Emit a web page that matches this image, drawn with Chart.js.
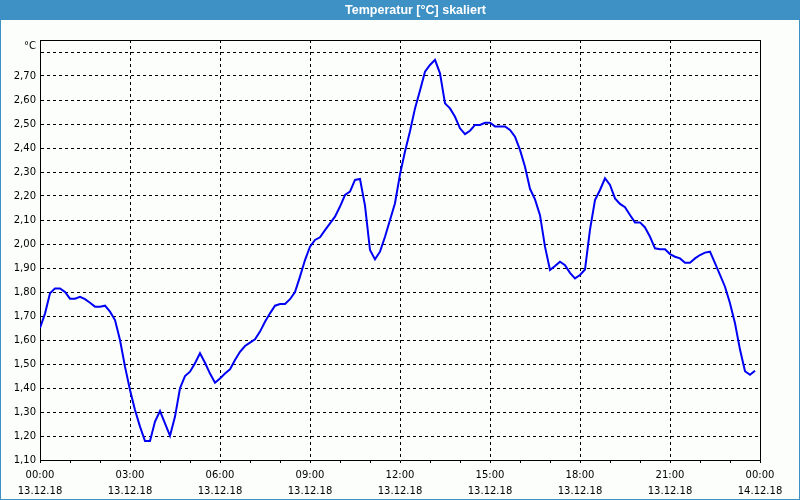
<!DOCTYPE html>
<html><head><meta charset="utf-8">
<script src="https://cdn.jsdelivr.net/npm/chart.js@4"></script>
<style>html,body{margin:0;padding:0;background:#fcfefc;}#wrap{width:800px;height:500px;position:relative}</style>
</head><body><div id="wrap"><canvas id="c" width="800" height="500"></canvas></div>
<script>
const chartTitle = 'Temperatur [°C] skaliert';
const unitLabel = '°C';
const sampleMinutes = 10;
const temps = [
1.65,1.71,1.795,1.815,1.815,1.80,1.772,1.772,1.78,1.77,
1.755,1.739,1.739,1.743,1.718,1.683,1.60,1.489,1.392,1.308,
1.239,1.179,1.179,1.26,1.304,1.253,1.201,1.281,1.399,1.45,
1.468,1.503,1.545,1.505,1.46,1.422,1.44,1.46,1.478,1.517,
1.551,1.575,1.589,1.603,1.635,1.676,1.711,1.743,1.75,1.75,
1.77,1.80,1.864,1.933,1.989,2.017,2.028,2.058,2.086,2.114,
2.156,2.204,2.218,2.267,2.271,2.16,1.975,1.936,1.968,2.03,
2.10,2.17,2.29,2.385,2.47,2.565,2.64,2.718,2.746,2.767,
2.711,2.586,2.565,2.53,2.482,2.458,2.472,2.496,2.496,2.505,
2.505,2.49,2.49,2.49,2.475,2.447,2.392,2.322,2.23,2.186,
2.12,1.989,1.892,1.908,1.926,1.912,1.88,1.857,1.871,1.894,
2.06,2.183,2.225,2.274,2.246,2.19,2.167,2.153,2.121,2.09,
2.09,2.069,2.03,1.982,1.978,1.978,1.958,1.947,1.94,1.922,
1.922,1.94,1.954,1.964,1.968,1.92,1.871,1.822,1.753,1.67,
1.56,1.47,1.455,1.472
];
const hourTicks = [0,1,2,3,4,5,6,7,8,9,10,11,12,13,14,15,16,17,18,19,20,21,22,23,24];
const xLabelHours = [0,3,6,9,12,15,18,21,24];
const xTimeLabels = ['00:00','03:00','06:00','09:00','12:00','15:00','18:00','21:00','00:00'];
const xDateLabels = ['13.12.18','13.12.18','13.12.18','13.12.18','13.12.18','13.12.18','13.12.18','13.12.18','14.12.18'];
const yTicks = [1.1,1.2,1.3,1.4,1.5,1.6,1.7,1.8,1.9,2.0,2.1,2.2,2.3,2.4,2.5,2.6,2.7,2.8];
const yUnlabeled = [2.8];

const BAR = '#3d91c5';
const BG = '#fcfefc';
const FONT = 'DejaVu Sans';

const framePlugin = {
  id: 'frame',
  beforeDraw(chart) {
    const ctx = chart.ctx, w = chart.width, h = chart.height;
    ctx.save();
    ctx.fillStyle = BG; ctx.fillRect(0, 0, w, h);
    ctx.fillStyle = BAR; ctx.fillRect(0, 0, w, 20);
    ctx.fillRect(0, 0, 1, h); ctx.fillRect(w - 1, 0, 1, h); ctx.fillRect(0, h - 1, w, 1);
    ctx.fillStyle = '#ffffff';
    ctx.font = 'bold 12.5px "Liberation Sans"';
    ctx.textAlign = 'center'; ctx.textBaseline = 'middle';
    ctx.fillText(chartTitle, 415.5, 10.5);
    ctx.restore();
  },
  afterDraw(chart) {
    const ctx = chart.ctx, a = chart.chartArea;
    ctx.save();
    ctx.strokeStyle = '#000'; ctx.lineWidth = 1;
    ctx.beginPath();
    ctx.moveTo(Math.round(a.left) + 0.5, Math.round(a.top) + 0.5);
    ctx.lineTo(Math.round(a.right) + 0.5, Math.round(a.top) + 0.5);
    ctx.lineTo(Math.round(a.right) + 0.5, Math.round(a.bottom) + 0.5);
    ctx.stroke();
    ctx.fillStyle = '#000';
    ctx.font = '10px "' + FONT + '"';
    ctx.textAlign = 'right'; ctx.textBaseline = 'middle';
    ctx.fillText(unitLabel, 36, 46);
    ctx.restore();
  }
};

new Chart(document.getElementById('c'), {
  type: 'line',
  data: {
    datasets: [{
      data: temps.map((v, i) => ({ x: i * sampleMinutes / 60, y: v })),
      borderColor: '#0000f5', borderWidth: 2, pointRadius: 0, tension: 0, fill: false
    }]
  },
  options: {
    responsive: false, animation: false, devicePixelRatio: 1,
    layout: { padding: { top: 40, right: 40, left: 0, bottom: 0 } },
    plugins: { legend: { display: false }, tooltip: { enabled: false }, title: { display: false } },
    scales: {
      x: {
        type: 'linear', min: 0, max: 24,
        afterBuildTicks: s => { s.ticks = hourTicks.map(v => ({ value: v })); },
        afterFit: s => { s.height = 40; },
        ticks: {
          autoSkip: false, maxRotation: 0, padding: 4, color: '#000',
          font: { family: FONT, size: 10, lineHeight: 1.6 },
          callback: v => { const k = xLabelHours.indexOf(v); return k >= 0 ? [xTimeLabels[k], xDateLabels[k]] : ''; }
        },
        grid: {
          color: c => (c.tick && xLabelHours.indexOf(c.tick.value) >= 0) ? '#000' : 'rgba(0,0,0,0)',
          tickColor: '#000', tickLength: 3, drawTicks: true, lineWidth: 1
        },
        border: { display: true, color: '#000', width: 1, dash: [3, 3] }
      },
      y: {
        type: 'linear', min: 1.1, max: 2.85, bounds: 'data',
        afterBuildTicks: s => { s.ticks = yTicks.map(v => ({ value: v })); },
        afterFit: s => { s.width = 40; },
        ticks: {
          padding: 4, color: '#000', font: { family: FONT, size: 10 },
          callback: v => yUnlabeled.some(u => Math.abs(u - v) < 1e-6) ? '' : v.toFixed(2).replace('.', ',')
        },
        grid: { color: '#000', drawTicks: false, lineWidth: 1 },
        border: { display: true, color: '#000', width: 1, dash: [3, 3] }
      }
    }
  },
  plugins: [framePlugin]
});
</script></body></html>
